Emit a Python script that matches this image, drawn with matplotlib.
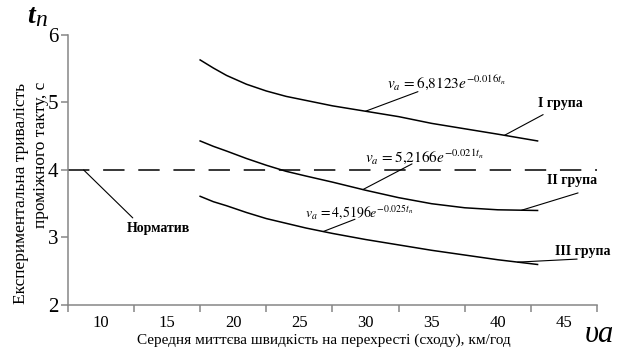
import matplotlib
matplotlib.use("Agg")
import matplotlib.pyplot as plt
import numpy as np

plt.rcParams['font.family'] = ['Liberation Serif', 'DejaVu Serif']
plt.rcParams['mathtext.fontset'] = 'stix'

# data
speed = [17.5, 18.5, 19.5, 21, 22.5, 24, 25.5, 27.5, 30, 32.5, 35, 37.5, 40, 43]
group_1 = [5.63, 5.51, 5.40, 5.27, 5.17, 5.09, 5.03, 4.95, 4.87, 4.79, 4.69, 4.61, 4.53, 4.43]
group_2 = [4.43, 4.35, 4.28, 4.17, 4.07, 3.98, 3.91, 3.82, 3.70, 3.59, 3.50, 3.44, 3.41, 3.40]
group_3 = [3.61, 3.53, 3.47, 3.37, 3.28, 3.21, 3.14, 3.06, 2.97, 2.89, 2.81, 2.74, 2.67, 2.60]
norm_value = 4
x_labels = [10, 15, 20, 25, 30, 35, 40, 45]
y_ticks = [2, 3, 4, 5, 6]

fig = plt.figure(figsize=(6.22, 3.53), dpi=100)
ax = fig.add_axes([0.109, 0.136, 0.851, 0.765])

grey = '#868686'

ax.axhline(norm_value, color='black', lw=1.1, dashes=(14, 9))
for ys in (group_1, group_2, group_3):
    ax.plot(speed, ys, color='black', lw=1.1)

ax.set_xlim(7.5, 47.5)
ax.set_ylim(2, 6)
ax.set_xticks([v - 2.5 for v in x_labels] + [x_labels[-1] + 2.5])
ax.set_xticklabels([])
ax.set_xticks(x_labels, minor=True)
ax.set_xticklabels([str(v) for v in x_labels], minor=True, fontsize=12)
ax.tick_params(axis='x', which='major', length=5, width=1.1, color=grey, direction='out')
ax.tick_params(axis='x', which='minor', length=0, pad=7)
ax.set_yticks(y_ticks)
ax.set_yticklabels([str(v) for v in y_ticks], fontsize=15)
ax.tick_params(axis='y', length=5, width=1.1, color=grey, pad=2)

for s in ('top', 'right'):
    ax.spines[s].set_visible(False)
for s in ('left', 'bottom'):
    ax.spines[s].set_color(grey)
    ax.spines[s].set_linewidth(1.1)

# leader lines + labels
lead = dict(arrowstyle='-', lw=0.8, color='black', shrinkA=0, shrinkB=0)

ax.annotate('', xy=(8.7, norm_value), xytext=(12.41, 3.29), arrowprops=lead)
ax.text(14.38, 3.14, 'Норматив', fontsize=10, fontweight='bold', ha='center', va='center')

ax.annotate('', xy=(30, np.interp(30, speed, group_1)), xytext=(33.96, 5.16), arrowprops=lead)
ax.text(31.62, 5.29, r'$v_a\, =6{,}8123e^{-0.016t_n}$', fontsize=11, ha='left', va='center')
ax.annotate('', xy=(40.5, np.interp(40.5, speed, group_1)), xytext=(43.42, 4.82), arrowprops=lead)
ax.text(44.7, 4.99, 'I група', fontsize=10, fontweight='bold', ha='center', va='center')

ax.annotate('', xy=(29.8, np.interp(29.8, speed, group_2)), xytext=(33.51, 4.09), arrowprops=lead)
ax.text(29.96, 4.19, r'$v_a\, =5{,}2166e^{-0.021t_n}$', fontsize=11, ha='left', va='center')
ax.annotate('', xy=(41.8, np.interp(41.8, speed, group_2)), xytext=(46.06, 3.66),
            arrowprops=lead, annotation_clip=False)
ax.text(45.6, 3.84, 'II група', fontsize=10, fontweight='bold', ha='center', va='center')

ax.annotate('', xy=(26.8, np.interp(26.8, speed, group_3)), xytext=(29.2, 3.27), arrowprops=lead)
ax.text(25.42, 3.38, r'$v_a\, =4{,}5196e^{-0.025t_n}$', fontsize=10, ha='left', va='center')
ax.annotate('', xy=(41.5, np.interp(41.5, speed, group_3)), xytext=(45.99, 2.68),
            arrowprops=lead, annotation_clip=False)
ax.text(46.44, 2.785, 'III група', fontsize=10, fontweight='bold', ha='center', va='center',
        clip_on=False)

# axis titles
fig.text(0.034, 0.453, 'Експериментальна тривалість', rotation=90, fontsize=12.5,
         ha='center', va='center')
fig.text(0.066, 0.561, 'проміжного такту, с', rotation=90, fontsize=12.5,
         ha='center', va='center')
fig.text(0.521, 0.036, 'Середня миттєва швидкість на перехресті (сходу), км/год',
         fontsize=11, ha='center', va='center')
fig.text(0.050, 0.952, 't', fontsize=20, fontweight='bold', style='italic', ha='center', va='center')
fig.text(0.066, 0.943, 'n', fontsize=17, style='italic', ha='center', va='center')
fig.text(0.964, 0.051, 'υa', fontsize=22, style='italic', ha='center', va='center')

fig.savefig('out.png', dpi=100)
